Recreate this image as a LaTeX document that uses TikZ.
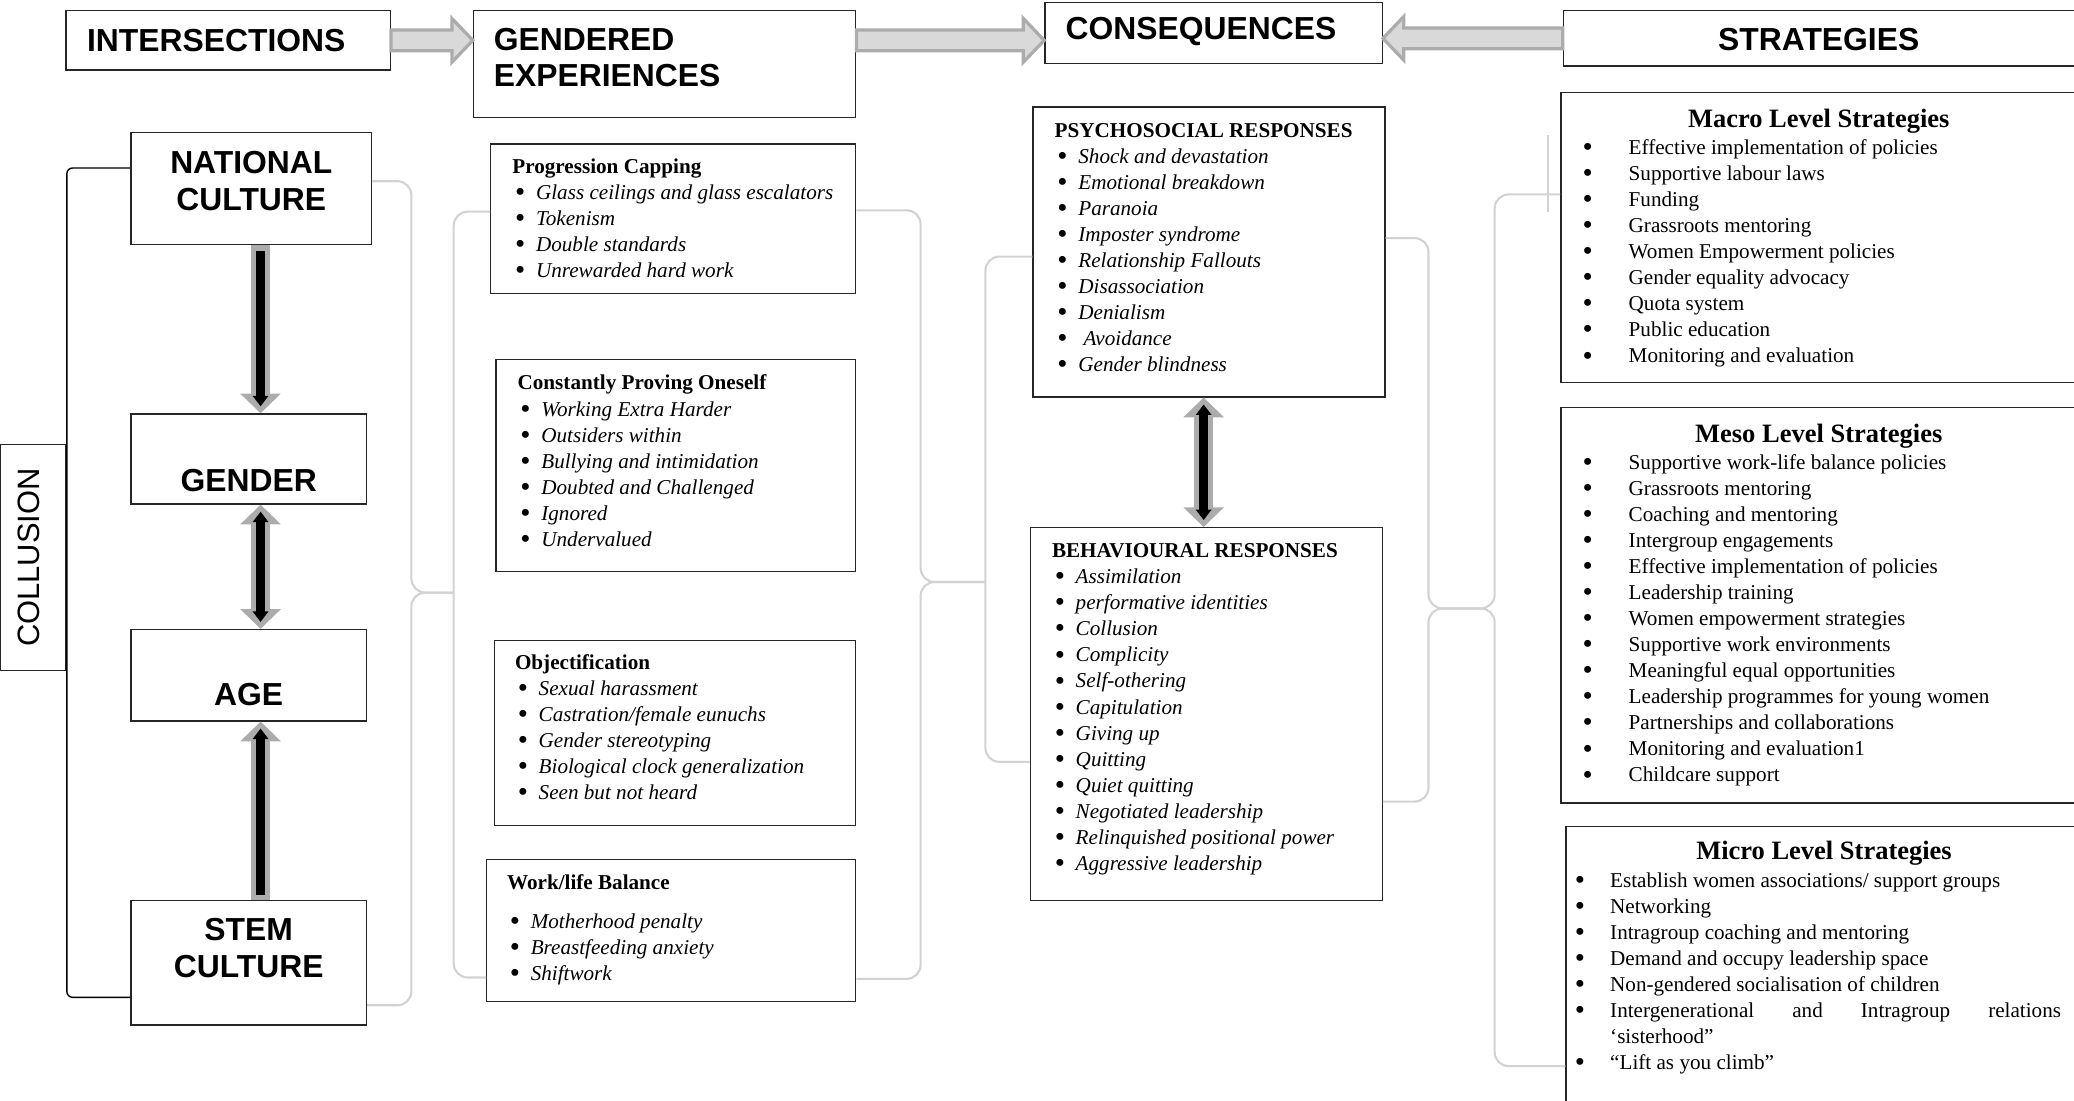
\documentclass[tikz,border=0pt]{standalone}
\usepackage{fontspec}
\setmainfont{Liberation Serif}
\newfontfamily\arialfam{Liberation Sans}
\usetikzlibrary{fit,calc,arrows.meta}

% list items
\newcommand{\dotmark}{\raisebox{-0.9pt}{\fontsize{12.5}{0}\selectfont\textbullet}}
\newcommand{\bul}[1]{\hspace*{1.2pt}\makebox[9pt][l]{\dotmark}\textit{#1}}
\newcommand{\sbul}[1]{\makebox[19.8pt][l]{\dotmark}#1}
\newcommand{\mbul}[1]{\makebox[15.25pt][l]{\dotmark}#1}

\tikzset{
  panel/.style={draw=black!85, line width=0.6pt, inner sep=0pt, fit={#1}},
  caps/.style={font=\arialfam\bfseries\fontsize{13.7}{15.8}\selectfont, align=center},
  list/.style={font=\fontsize{9.1}{11.21}\selectfont, align=left, anchor=north west},
  lvl/.style={font=\bfseries\fontsize{11.4}{13}\selectfont, anchor=base},
  brace/.style={draw=gray!35, line width=0.9pt, rounded corners=6pt},
  collude/.style={draw=black, line width=0.6pt, rounded corners=2.5pt},
  hollow/.style={draw=gray!65, fill=gray!30, line width=1.4pt, line join=miter,
    to path={let \p1=(\tikztostart), \p2=(\tikztotarget), \n1={sign(\x2-\x1)} in
      (\x1,\y1+4.5pt) -- (\x2-\n1*9pt,\y1+4.5pt) -- (\x2-\n1*9pt,\y1+9.4pt) -- (\x2,\y1)
      -- (\x2-\n1*9pt,\y1-9.4pt) -- (\x2-\n1*9pt,\y1-4.5pt) -- (\x1,\y1-4.5pt) -- cycle}},
  fat/.style={draw=black, line width=3.8pt, shorten <=2.4pt, shorten >=3pt,
    -{Triangle[width=6.5pt,length=4.5pt]},
    preaction={draw=gray!65, line width=8pt, shorten <=0pt, shorten >=0pt,
      -{Triangle[width=17pt,length=8.5pt]}}},
  fatboth/.style={draw=black, line width=3.8pt, shorten <=3pt, shorten >=3pt,
    {Triangle[width=6.5pt,length=4.5pt]}-{Triangle[width=6.5pt,length=4.5pt]},
    preaction={draw=gray!65, line width=8pt, shorten <=0pt, shorten >=0pt,
      {Triangle[width=17pt,length=8.5pt]}-{Triangle[width=17pt,length=8.5pt]}}}
}

\begin{document}
\begin{tikzpicture}[x=0.02cm, y=-0.02cm, every node/.style={inner sep=0pt}]
  \useasboundingbox (0,0) rectangle (1568,832);

  % top row
  \node[panel={(50,8) (295,53)}] (inter) {};
  \node[panel={(358,8) (647,89)}] (gendexp) {};
  \node[panel={(790,2) (1045,48)}] (conseq) {};
  \node[panel={(1182,8) (1580,50)}] (strat) {};
  \node[caps] (inter-t) at (163.5,31) {INTERSECTIONS};
  \node[caps, align=left, anchor=west] (gendexp-t) at (373,43.5) {GENDERED\\EXPERIENCES};
  \node[caps] (conseq-t) at (908,24) {CONSEQUENCES};
  \node[caps] (strat-t) at (1375,30) {STRATEGIES};
  \draw[hollow] (inter.east) to (inter.east -| gendexp.west);
  \draw[hollow] (gendexp.east |- inter.east) to (conseq.west |- inter.east);
  \draw[hollow] (strat.west) to (strat.west -| conseq.east);

  % intersections
  \node[panel={(99,100) (281,185)}] (natcult) {};
  \node[panel={(99,313) (277,381)}] (gender) {};
  \node[panel={(99,476) (277,545)}] (age) {};
  \node[panel={(99,681) (277,775)}] (stem) {};
  \node[panel={(0.4,336) (50,507)}] (collusion) {};
  \node[caps] (natcult-t) at (190,137) {NATIONAL\\CULTURE};
  \node[caps] (gender-t) at (188,363) {GENDER};
  \node[caps] (age-t) at (188,525) {AGE};
  \node[caps] (stem-t) at (188,716.5) {STEM\\CULTURE};
  \node[font=\arialfam\fontsize{13.3}{15}\selectfont, rotate=90] (collusion-t) at (22,421.5) {COLLUSION};
  \draw[fat] (natcult.south -| 197,0) -- (gender.north -| 197,0);
  \draw[fatboth] (gender.south -| 197,0) -- (age.north -| 197,0);
  \draw[fat] (stem.north -| 197,0) -- (age.south -| 197,0);
  \draw[collude] (natcult.west |- 0,127) -| (collusion.north east) -- (collusion.south east) |- (stem.west |- 0,754);

  % gendered experiences
  \node[panel={(371,109) (647,222)}] (progcap) {};
  \node[panel={(375,272) (647,432)}] (proving) {};
  \node[panel={(374,484) (647,624)}] (objectif) {};
  \node[panel={(368,650) (647,757)}] (worklife) {};
  \node[list] (progcap-t) at (387,116.7) {\strut\textbf{Progression Capping}\\
    \bul{Glass ceilings and glass escalators}\\
    \bul{Tokenism}\\
    \bul{Double standards}\\
    \bul{Unrewarded hard work}};
  \node[list] (proving-t) at (391,280.7) {\strut\textbf{Constantly Proving Oneself}\\
    \bul{Working Extra Harder}\\
    \bul{Outsiders within}\\
    \bul{Bullying and intimidation}\\
    \bul{Doubted and Challenged}\\
    \bul{Ignored}\\
    \bul{Undervalued}};
  \node[list] (objectif-t) at (389,491.7) {\strut\textbf{Objectification}\\
    \bul{Sexual harassment}\\
    \bul{Castration/female eunuchs}\\
    \bul{Gender stereotyping}\\
    \bul{Biological clock generalization}\\
    \bul{Seen but not heard}};
  \node[list] (worklife-t) at (383,658.7) {\strut\textbf{Work/life Balance}\\[5.3pt]
    \bul{Motherhood penalty}\\
    \bul{Breastfeeding anxiety}\\
    \bul{Shiftwork}};

  % consequences
  \node[panel={(781,81) (1047,300)}] (psycho) {};
  \node[panel={(779,399) (1045,681)}] (behav) {};
  \node[list] (psycho-t) at (797,89.5) {\strut\textbf{PSYCHOSOCIAL RESPONSES}\\
    \bul{Shock and devastation}\\
    \bul{Emotional breakdown}\\
    \bul{Paranoia}\\
    \bul{Imposter syndrome}\\
    \bul{Relationship Fallouts}\\
    \bul{Disassociation}\\
    \bul{Denialism}\\
    \bul{\ Avoidance}\\
    \bul{Gender blindness}};
  \node[list] (behav-t) at (795,407.5) {\strut\textbf{BEHAVIOURAL RESPONSES}\\
    \bul{Assimilation}\\
    \bul{performative identities}\\
    \bul{Collusion}\\
    \bul{Complicity}\\
    \bul{Self-othering}\\
    \bul{Capitulation}\\
    \bul{Giving up}\\
    \bul{Quitting}\\
    \bul{Quiet quitting}\\
    \bul{Negotiated leadership}\\
    \bul{Relinquished positional power}\\
    \bul{Aggressive leadership}};
  \draw[fatboth] (psycho.south -| 910,0) -- (behav.north -| 910,0);

  % strategies
  \node[panel={(1180,70) (1580,289)}] (macro) {};
  \node[panel={(1180,308) (1580,607)}] (meso) {};
  \node[panel={(1184,625) (1580,845)}] (micro) {};
  \node[lvl] (macro-t) at (1375,96.5) {Macro Level Strategies};
  \node[lvl] (meso-t) at (1375,334.5) {Meso Level Strategies};
  \node[lvl] (micro-t) at (1379,649.5) {Micro Level Strategies};
  \node[list] (macro-l) at (1196.2,102.7) {\strut\sbul{Effective implementation of policies}\\
    \sbul{Supportive labour laws}\\
    \sbul{Funding}\\
    \sbul{Grassroots mentoring}\\
    \sbul{Women Empowerment policies}\\
    \sbul{Gender equality advocacy}\\
    \sbul{Quota system}\\
    \sbul{Public education}\\
    \sbul{Monitoring and evaluation}};
  \node[list] (meso-l) at (1196.2,340.7) {\strut\sbul{Supportive work-life balance policies}\\
    \sbul{Grassroots mentoring}\\
    \sbul{Coaching and mentoring}\\
    \sbul{Intergroup engagements}\\
    \sbul{Effective implementation of policies}\\
    \sbul{Leadership training}\\
    \sbul{Women empowerment strategies}\\
    \sbul{Supportive work environments}\\
    \sbul{Meaningful equal opportunities}\\
    \sbul{Leadership programmes for young women}\\
    \sbul{Partnerships and collaborations}\\
    \sbul{Monitoring and evaluation1}\\
    \sbul{Childcare support}};
  \node[list] (micro-l) at (1190.2,656.7) {\strut\mbul{Establish women associations/ support groups}\\
    \mbul{Networking}\\
    \mbul{Intragroup coaching and mentoring}\\
    \mbul{Demand and occupy leadership space}\\
    \mbul{Non-gendered socialisation of children}\\
    \mbul{\makebox[194pt][s]{Intergenerational and Intragroup relations}}\\
    \hspace*{15.25pt}‘sisterhood”\\
    \mbul{“Lift as you climb”}};

  % braces between the columns
  \draw[brace] (natcult.east |- 0,137) -| (311,448) -- (343,448);
  \draw[brace] (stem.east |- 0,760) -| (311,448) -- (343,448);
  \draw[brace] (progcap.west |- 0,160) -| (343,739) -- (worklife.west |- 0,739);
  \draw[brace] (progcap.east |- 0,159) -| (696,440) -- (745,440);
  \draw[brace] (worklife.east |- 0,740) -| (696,440) -- (745,440);
  \draw[brace] (psycho.west |- 0,194) -| (745,576) -- (behav.west |- 0,576);
  \draw[brace] (psycho.east |- 0,180) -| (1080,460) -- (1108,460);
  \draw[brace] (behav.east |- 0,606) -| (1080,460) -- (1108,460);
  \draw[brace] (macro.west |- 0,147) -| (1130,460) -- (1108,460);
  \draw[brace] (micro.west |- 0,806) -| (1130,460) -- (1108,460);
  \draw[brace, rounded corners=0pt] (1170,102) -- (1170,160);
\end{tikzpicture}
\end{document}
